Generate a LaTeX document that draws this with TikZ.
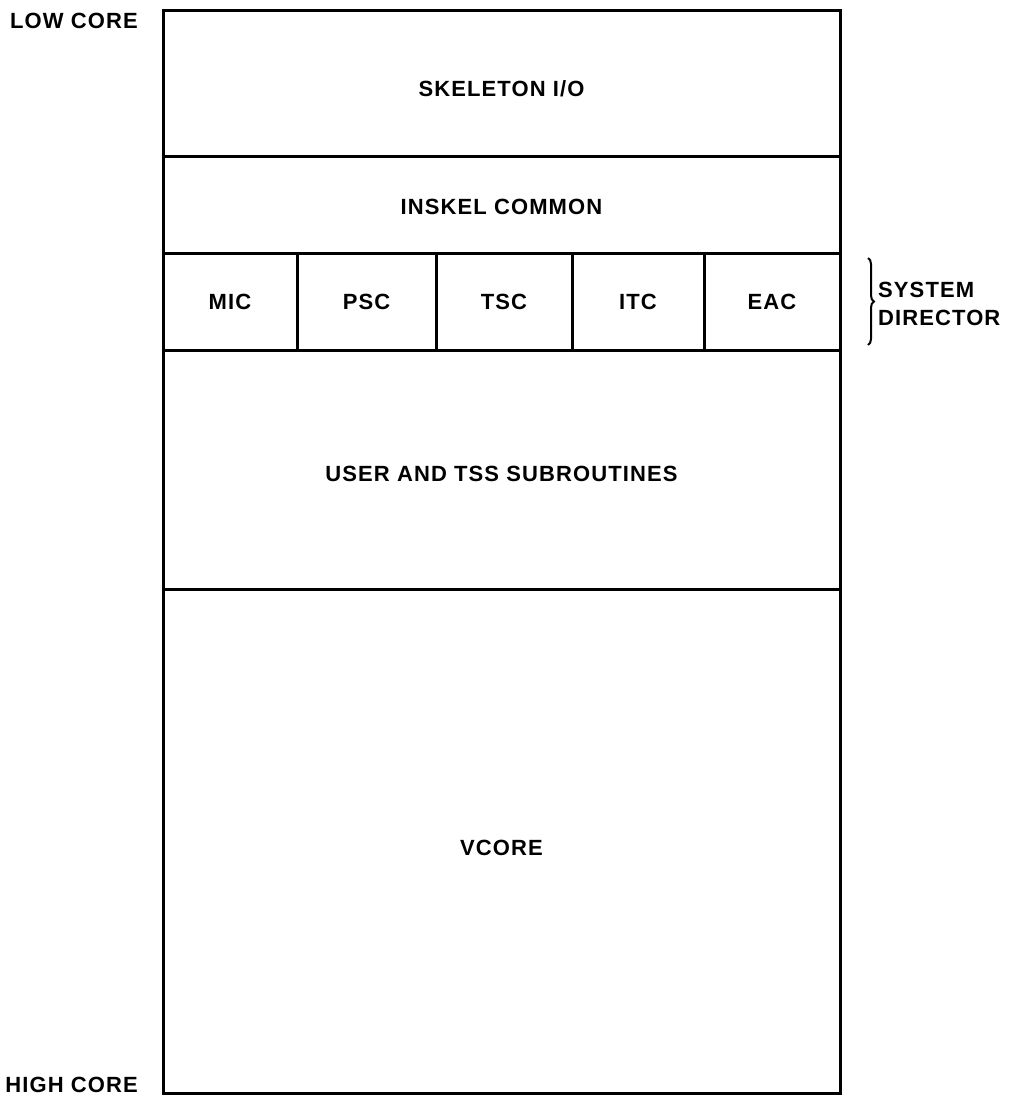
\documentclass[tikz,border=0pt]{standalone}
\usepackage{fontspec}
\setmainfont{Liberation Sans}[LetterSpace=5]
\usetikzlibrary{positioning,decorations.pathreplacing}

\begin{document}
\begin{tikzpicture}[
  x=1pt, y=1pt,
  font=\fontsize{22}{28}\selectfont\bfseries,
  layer/.style={draw, line width=3pt, minimum width=677pt, outer sep=0pt, inner sep=0pt},
  cell/.style={draw, line width=3pt, minimum height=97pt, outer sep=0pt, inner sep=0pt},
  side/.style={align=left, inner sep=0pt},
  brace/.style={decorate, decoration={brace, amplitude=6pt}, line width=2pt}
]
\useasboundingbox (0,0) rectangle (1013,-1098);

% memory layers, low core at the top
\node[layer, minimum height=146pt, anchor=north west,
      label={[yshift=-6pt]center:SKELETON I/O}] (skel) at (163,-10) {};
\node[layer, minimum height=97pt, below=0pt of skel,
      label={[yshift=-2pt]center:INSKEL COMMON}] (inskel) {};

% system director modules
\node[cell, minimum width=134pt, anchor=north west] (mic) at (inskel.south west) {MIC};
\node[cell, minimum width=139pt, right=0pt of mic] (psc) {PSC};
\node[cell, minimum width=136pt, right=0pt of psc] (tsc) {TSC};
\node[cell, minimum width=132pt, right=0pt of tsc] (itc) {ITC};
\node[cell, minimum width=136pt, right=0pt of itc] (eac) {EAC};

\node[layer, minimum height=239pt, anchor=north west,
      label={[yshift=-4pt]center:USER AND TSS SUBROUTINES}] (user) at (mic.south west) {};
\node[layer, minimum height=504pt, below=0pt of user,
      label={[yshift=-7pt]center:VCORE}] (vcore) {};

% side labels
\node[anchor=north east, inner sep=0pt] (low) at ([xshift=-25pt,yshift=-3pt]skel.north west) {LOW CORE};
\node[anchor=south east, inner sep=0pt] (high) at ([xshift=-25pt]vcore.south west) {HIGH CORE};

\coordinate (btop) at ([xshift=28pt,yshift=-5pt]eac.north east);
\coordinate (bbot) at ([xshift=28pt,yshift=5pt]eac.south east);
\draw[brace] (btop) -- (bbot);
\node[side, anchor=west] (sysdir) at ([xshift=38pt,yshift=-2pt]eac.east) {SYSTEM\\DIRECTOR};
\end{tikzpicture}
\end{document}
